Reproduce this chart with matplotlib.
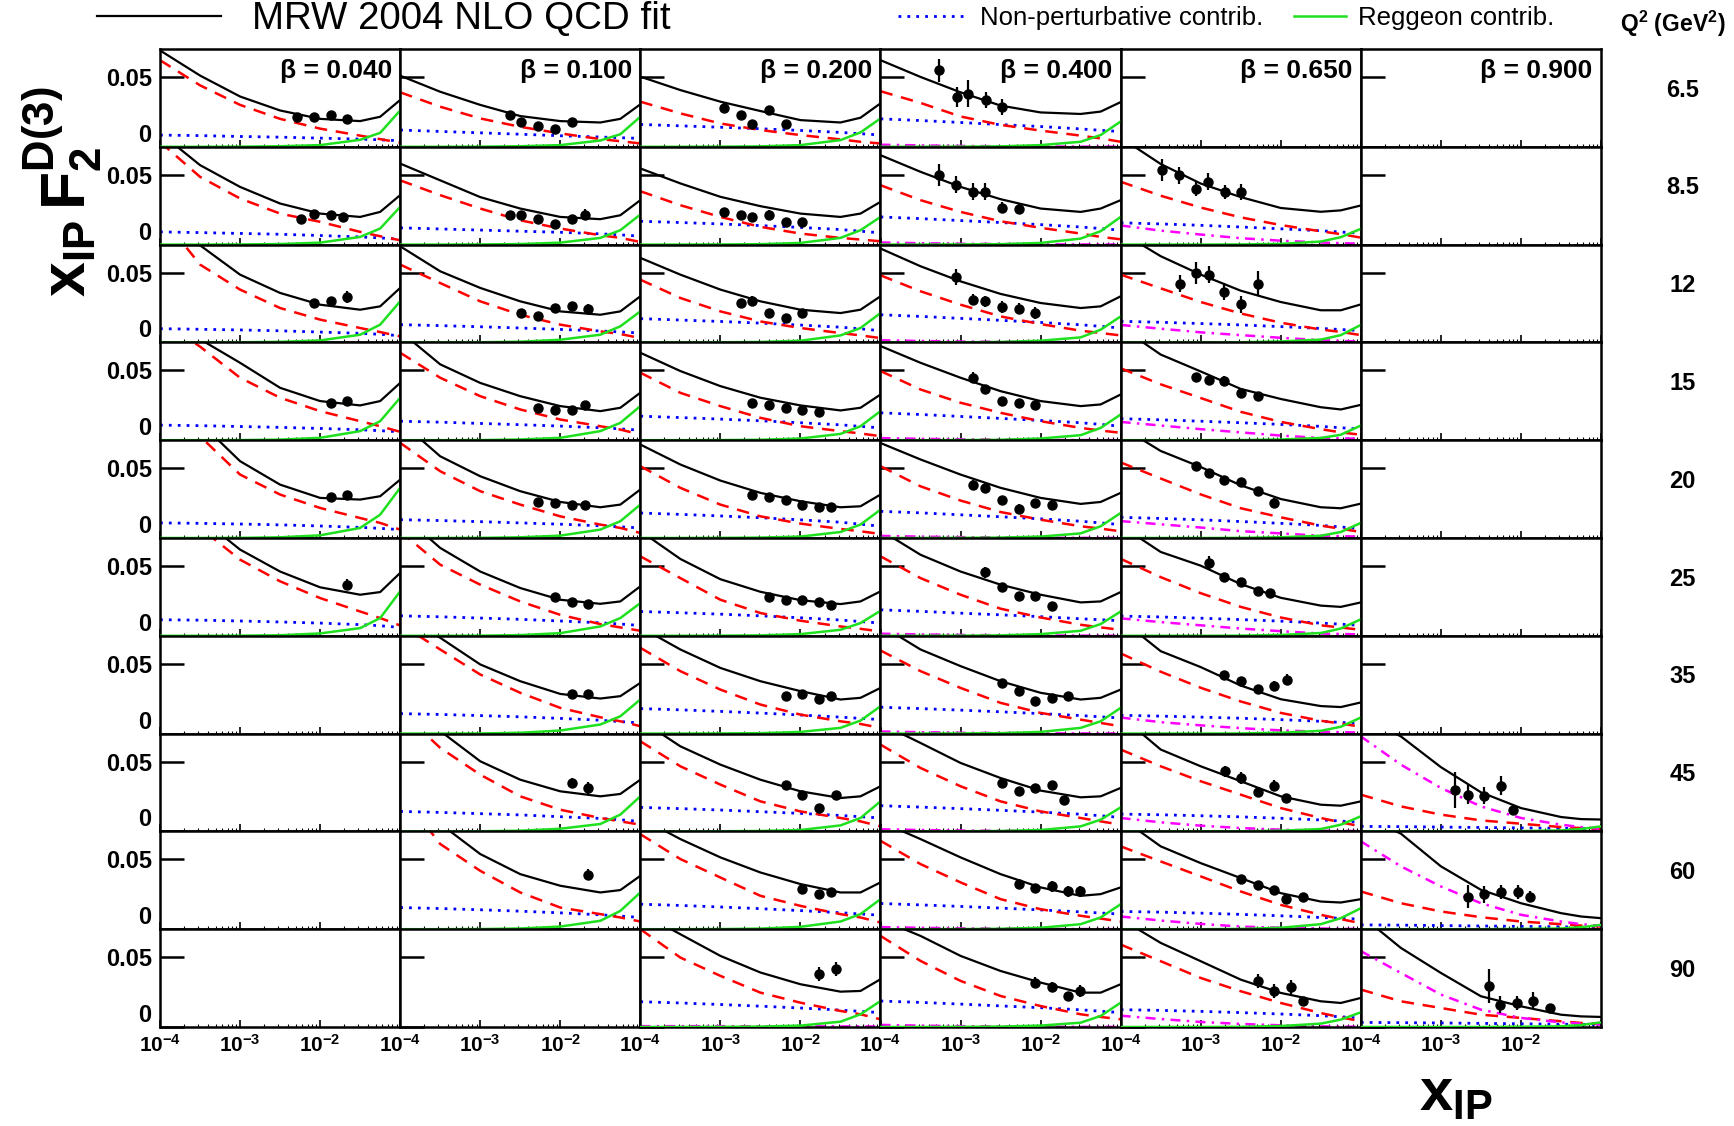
import numpy as np
import matplotlib
matplotlib.use("Agg")
import matplotlib.pyplot as plt
from matplotlib.lines import Line2D
from matplotlib.ticker import LogLocator, NullLocator, FixedLocator

plt.rcParams['font.family'] = ['Liberation Sans', 'DejaVu Sans']
plt.rcParams['mathtext.fontset'] = 'custom'
plt.rcParams['mathtext.rm'] = 'Liberation Sans'
plt.rcParams['mathtext.bf'] = 'Liberation Sans:bold'
plt.rcParams['mathtext.it'] = 'Liberation Sans:italic'

# ---------------- data (values in units of 1e-3) ----------------
UNIT = 1e-3
LOGX = [-4.0, -3.5, -3.0, -2.5, -2.0, -1.5, -1.25, -1.0]
BETAS = ['0.040', '0.100', '0.200', '0.400', '0.650', '0.900']
Q2 = ['6.5', '8.5', '12', '15', '20', '25', '35', '45', '60', '90']

# beta = 0.040
TOT_B040 = [[69, 51, 36, 26, 20, 18.4, 21.5, 33.5],
            [80, 56.9, 41.3, 29.4, 22.2, 19.8, 23.4, 35.4],
            [95, 69.5, 48.5, 35.4, 27, 23.4, 25.8, 39],
            [95, 72.3, 55.4, 37.5, 28, 24.9, 28, 41],
            [110, 82.7, 55, 38.2, 28.7, 27.5, 29.9, 41.8],
            [115, 84.7, 61.7, 46, 34.7, 29.4, 31.3, 45],
            None, None, None, None]
PERT_B040 = [[62, 44, 30, 20, 13, 8, 5.5, 3],
             [73.5, 48.5, 33, 22.2, 16.3, 9.1, 6, 3.1],
             [91.5, 55.7, 37.8, 24.6, 16.3, 10.3, 7.4, 4.3],
             [86, 67, 44.7, 30.4, 20.8, 13.6, 10, 6],
             [100, 72.8, 45.4, 31.1, 21.5, 14.3, 10.8, 6],
             [105, 77.3, 54.5, 39, 27, 17.4, 12.7, 7.4],
             None, None, None, None]
NP_B040 = [[8.4, 8.0, 7.4, 6.9, 6.2, 5.5, 5.0, 4.3],
           [9.1, 8.6, 8.0, 7.4, 6.5, 5.5, 4.8, 3.8],
           [9.8, 9.4, 8.9, 8.3, 7.4, 6.5, 5.8, 4.8],
           [10.8, 10.4, 9.8, 9.2, 8.4, 7.5, 6.8, 6.0],
           [10.8, 10.5, 10.0, 9.4, 8.6, 7.6, 6.9, 6.0],
           [11.5, 11.2, 10.6, 9.9, 9.1, 8.0, 7.2, 6.0],
           None, None, None, None]
REG_B040 = [[0, 0, 0.1, 0.4, 1.2, 5, 10, 26],
            [0, 0, 0.1, 0.4, 1.4, 5.5, 11.5, 27],
            [0, 0, 0.1, 0.4, 1.4, 5.5, 12.7, 29.4],
            [0, 0, 0.1, 0.4, 1.7, 6.5, 13.6, 30.4],
            [0, 0, 0.1, 0.5, 1.9, 7.2, 16.7, 35.9],
            [0, 0, 0.1, 0.4, 1.7, 5.5, 12.7, 31.8],
            None, None, None, None]
MAG_B040 = [None] * 10
DX_B040 = [[-2.285, -2.075, -1.866, -1.669], [-2.243, -2.075, -1.866, -1.72],
           [-2.075, -1.866, -1.669], [-1.866, -1.669], [-1.866, -1.669], [-1.669],
           None, None, None, None]
DY_B040 = [[21.0, 21.5, 22.7, 19.8], [18.2, 21.7, 21.5, 19.8],
           [28, 29.4, 32.5], [26.3, 28], [29.2, 31.1], [36.6],
           None, None, None, None]
DE_B040 = [[1.5, 2.5, 1.5, 2], [1.5, 1.5, 1.5, 1.5],
           [2, 3, 4.5], [1.5, 2], [1.5, 2.5], [4],
           None, None, None, None]

# beta = 0.100
TOT_B100 = [[50.9, 39.4, 30, 22, 18.4, 17.4, 20, 30.4],
            [58, 46, 34, 25.8, 19.8, 18.2, 21, 31.8],
            [68.8, 50.9, 39, 29.4, 22.2, 19.8, 22.2, 33],
            [78, 54.3, 41, 31.5, 24.4, 20.8, 23.2, 34],
            [83.5, 58.5, 44.2, 33.5, 25.8, 22, 23.9, 34.7],
            [88, 62.9, 46, 34.2, 25.8, 22.9, 24.6, 35.4],
            [86, 68.6, 49.5, 37.5, 28.4, 25.1, 26.8, 36.3],
            [95, 71.9, 50.2, 37, 28.7, 25.1, 26.8, 37],
            [100, 75.5, 53.8, 39.4, 31.1, 26.3, 28, 38.2],
            None]
PERT_B100 = [[39, 28.7, 20.3, 14.3, 9.6, 5.5, 4, 2.4],
             [46, 35.4, 25.8, 17.4, 11.5, 6.7, 4.8, 1.9],
             [55.7, 42.5, 29.4, 19.8, 12.7, 7.9, 6, 3.1],
             [62.6, 44.7, 31.5, 22, 14.8, 10, 7.6, 4.1],
             [68.1, 47.8, 33.5, 23.9, 15.5, 9.6, 7.2, 3.6],
             [74.8, 50.9, 36.6, 24.6, 15, 8.4, 6, 3.6],
             [78.3, 60.2, 42.3, 29.2, 18.4, 11.7, 8.8, 5.3],
             [86.6, 59.8, 40.6, 25.1, 15.5, 9.6, 7.2, 4.8],
             [98, 61, 41.8, 26.3, 15.5, 10.8, 8.4, 5.5],
             None]
NP_B100 = [[12, 11, 10, 9, 7.9, 7, 6.5, 6],
           [12, 11.2, 10.4, 9.6, 8.8, 7.7, 7, 6],
           [12.7, 12, 11.2, 10.3, 9.3, 8.2, 7.5, 6.7],
           [13.6, 12.9, 12, 11.1, 10.1, 8.9, 8.1, 7.2],
           [13.1, 12.5, 11.7, 10.8, 9.9, 8.7, 8, 7.2],
           [14.3, 13.6, 12.7, 11.8, 10.6, 9.3, 8.4, 7.4],
           [14.3, 13.7, 12.9, 12, 10.9, 9.6, 8.6, 7.6],
           [14.3, 13.6, 12.7, 11.8, 10.5, 9.3, 8.3, 7.2],
           [15.5, 14.8, 13.9, 12.9, 11.7, 10.3, 9.4, 8.4],
           None]
REG_B100 = [[0, 0, 0.1, 0.4, 1.2, 4.5, 9, 21.5],
            [0, 0, 0.1, 0.4, 1.4, 4.8, 10.3, 21.5],
            [0, 0, 0.1, 0.5, 1.9, 5.5, 11.5, 22.2],
            [0, 0, 0.1, 0.5, 1.7, 6.5, 12.4, 24.4],
            [0, 0, 0.1, 0.5, 1.7, 6, 12, 23.9],
            [0, 0, 0.1, 0.5, 1.9, 6.7, 12.7, 23.4],
            [0, 0, 0.1, 0.6, 2.2, 6.5, 12.4, 24.4],
            [0, 0, 0.1, 0.5, 1.9, 5.3, 12, 25.1],
            [0, 0, 0.1, 0.5, 1.9, 6, 13.1, 26.3],
            None]
MAG_B100 = [None] * 10
DX_B100 = [[-2.632, -2.485, -2.276, -2.067, -1.858],
           [-2.632, -2.485, -2.276, -2.067, -1.858, -1.69],
           [-2.485, -2.276, -2.067, -1.858, -1.649],
           [-2.276, -2.067, -1.858, -1.69],
           [-2.276, -2.067, -1.858, -1.69],
           [-2.067, -1.858, -1.649],
           [-1.858, -1.649],
           [-1.858, -1.649],
           [-1.649],
           None]
DY_B100 = [[22.7, 17.4, 14.6, 12.4, 17.9],
           [21, 21.5, 18.2, 14.6, 18.2, 21.5],
           [21, 18.6, 24.6, 25.8, 23.9],
           [23.2, 21.5, 21.5, 25.1],
           [25.6, 25.1, 23.9, 23.9],
           [27.7, 24.1, 22.7],
           [28.7, 28.7],
           [34.7, 31.1],
           [39],
           None]
DE_B100 = [[3, 1.5, 1.5, 1.5, 1.5],
           [3, 1.5, 1.5, 1.5, 1.5, 4],
           [2, 2, 3, 3, 3.5],
           [1.5, 1.5, 1.5, 2],
           [1.5, 1.5, 1.5, 1.5],
           [2.5, 1.5, 1.5],
           [2, 2.5],
           [3.5, 4],
           [4],
           None]

# beta = 0.200
TOT_B200 = [[50.2, 40.6, 32.3, 25.6, 19.1, 17.4, 20.8, 31.1],
            [54.5, 43.8, 34.2, 27.5, 22.2, 19.8, 22.2, 30.6],
            [60.5, 48.5, 37.8, 29.4, 23.4, 21, 23.4, 33],
            [62.6, 49.5, 38.7, 30.4, 24.9, 21.3, 23.2, 32.7],
            [66.9, 52.6, 41.1, 32.3, 26.3, 22, 22.7, 31.1],
            [75, 55, 40.5, 31.5, 25.5, 22.7, 24.6, 31.8],
            [76.2, 60.2, 47, 37.5, 30.4, 24.4, 25.6, 32.7],
            [79.8, 60.9, 47.8, 37, 28.7, 23.9, 25.1, 32.3],
            [79.7, 64.5, 51.4, 40.6, 32.3, 26.3, 26.3, 33.5],
            [82, 66.4, 50.9, 39, 30.6, 25.3, 25.8, 34.2]]
PERT_B200 = [[32.3, 23.9, 16.7, 12, 8.4, 5.3, 3.6, 2.4],
             [38.2, 28.2, 19.8, 12.7, 7.9, 4.8, 3.6, 2.4],
             [44.9, 31.8, 22.2, 15, 10.3, 6.7, 5, 3.1],
             [48.3, 33.9, 24.4, 16, 10, 6.5, 4.8, 2.9],
             [51.4, 35.9, 23.9, 15.5, 10.3, 6.5, 4.8, 2.9],
             [56.9, 41.3, 25.8, 16.3, 10.8, 6.7, 5, 3.1],
             [61.4, 44.7, 31.5, 20.8, 13.6, 8.8, 6.9, 4.1],
             [64.5, 46.6, 33.5, 21.5, 14.3, 9.6, 7.2, 3.6],
             [68, 50.2, 37, 23.9, 16.7, 10.8, 8.4, 4.8],
             [70, 49.7, 36.6, 24.6, 17.4, 11.5, 9.1, 5.5]]
NP_B200 = [[16, 15, 14, 12.9, 11.7, 10.3, 9.4, 8.4],
           [16.7, 15.8, 14.8, 13.6, 12.3, 10.8, 9.6, 8.4],
           [17, 16, 15, 13.8, 12.4, 10.9, 9.7, 8.4],
           [17.2, 16.2, 15.1, 13.9, 12.5, 11, 9.9, 8.8],
           [17.9, 16.9, 15.8, 14.5, 13, 11.3, 9.9, 8.4],
           [17.4, 16.5, 15.5, 14.3, 12.9, 11.3, 10.2, 9.1],
           [17.9, 17, 15.9, 14.7, 13.3, 11.8, 10.9, 10],
           [17.2, 16.3, 15.3, 14.1, 12.9, 11.4, 10.5, 9.6],
           [17.9, 17, 15.9, 14.7, 13.3, 11.8, 10.9, 10],
           [18.1, 17.2, 16.1, 14.9, 13.6, 12.1, 11.2, 10.3]]
REG_B200 = [[0, 0, 0.1, 0.3, 1.2, 4.8, 10.3, 20.3],
            [0, 0, 0.1, 0.3, 1.2, 4.8, 10.3, 19.8],
            [0, 0, 0.1, 0.3, 1.2, 5, 10.3, 21],
            [0, 0, 0.1, 0.3, 1.2, 4.5, 10, 20.8],
            [0, 0, 0.1, 0.3, 1, 4.3, 9.6, 20.3],
            [0, 0, 0.1, 0.3, 1.2, 4.3, 9.1, 17.9],
            [0, 0, 0.1, 0.3, 1.2, 4.1, 9.3, 19.6],
            [0, 0, 0.1, 0.3, 1, 4.3, 9.6, 21.5],
            [0, 0, 0.1, 0.4, 1.7, 5.5, 10.8, 21.5],
            [0, 0, 0.1, 0.3, 1, 3.8, 9.1, 18.6]]
MAG_B200 = [None, None, None, None, None, None, None, None, None,
            [0.6, 0.6, 0.6, 0.5, 0.5, 0.4, 0.4, 0.3]]
DX_B200 = [[-2.957, -2.748, -2.602, -2.394, -2.185],
           [-2.957, -2.748, -2.602, -2.394, -2.185, -1.977],
           [-2.748, -2.602, -2.394, -2.185, -1.977],
           [-2.602, -2.394, -2.185, -1.977, -1.768],
           [-2.602, -2.394, -2.185, -1.977, -1.768, -1.614],
           [-2.394, -2.185, -1.977, -1.768, -1.614],
           [-2.185, -1.977, -1.768, -1.614],
           [-2.185, -1.977, -1.768, -1.559],
           [-1.977, -1.768, -1.614],
           [-1.768, -1.559]]
DY_B200 = [[28, 22.7, 16, 26.3, 16],
           [23.4, 21.5, 19.8, 21.5, 16.3, 16.3],
           [28.2, 29.9, 21, 17.4, 21],
           [26.8, 25.1, 23.2, 21.5, 20.1],
           [31.1, 29.2, 27, 23.9, 22, 22],
           [27.7, 25.8, 25.8, 23.9, 22.2],
           [26.8, 28.7, 25.1, 27.2],
           [33, 25.8, 16.7, 25.8],
           [28.7, 25.1, 26.8],
           [38.2, 41.8]]
DE_B200 = [[3, 2.5, 1.5, 2, 1.5],
           [1.5, 1.5, 1.5, 3, 1.5, 1.5],
           [2.5, 3, 1.5, 1.5, 1.5],
           [1.5, 1.5, 1.5, 1.5, 1.5],
           [1.5, 1.5, 1.5, 1.5, 1.5, 1.5],
           [1.5, 1.5, 1.5, 1.5, 1.5],
           [2, 2, 1.5, 2.5],
           [1.5, 1.5, 1.5, 3],
           [1.5, 1.5, 2.5],
           [5, 5]]

# beta = 0.400
TOT_B400 = [[62, 50, 39, 29.5, 24.6, 23.5, 25.2, 32],
            [64, 52.1, 41.3, 32.5, 25.8, 23.4, 25.8, 31.8],
            [67.2, 54.5, 43.7, 34.7, 28.2, 24.6, 25.8, 33],
            [67.4, 55.4, 44.7, 35.1, 28, 24.4, 25.6, 32.7],
            [68, 56.2, 45.4, 35.9, 28.7, 24.4, 25.8, 32.3],
            [75.6, 58, 46, 36.6, 29.4, 23.9, 24.6, 31.3],
            [77.7, 60.2, 48.3, 37.5, 29.2, 24.4, 25.6, 31.5],
            [77.3, 63.3, 49, 38.2, 29.2, 24.4, 25.1, 31.1],
            [77, 64.5, 51.4, 39.4, 29.9, 23.9, 25.1, 29.9],
            [77, 65.2, 50.9, 40.1, 31.8, 24.6, 24.6, 30.6]]
PERT_B400 = [[39.8, 31.4, 21.7, 15.7, 11.6, 8, 6, 3.6],
             [42.5, 31.8, 23.4, 16.7, 12, 7.9, 5.5, 3.8],
             [48, 36.6, 27, 18.6, 13.1, 8.4, 6.7, 5],
             [49.5, 36.3, 26.8, 19.6, 13.6, 8.8, 6.9, 5.3],
             [51.4, 37, 26.8, 18.6, 13.1, 8.4, 6.7, 4.8],
             [56.9, 41.3, 29.4, 19.4, 13.1, 7.9, 6, 4.3],
             [59.5, 44.7, 32.7, 22, 14.8, 10, 7.6, 5.3],
             [62.1, 45.4, 32.3, 21.5, 14.3, 9.6, 7.2, 4.8],
             [63.3, 46.6, 33.5, 21.5, 14.3, 9.6, 7.6, 5.5],
             [65.2, 47.3, 33, 22.2, 15, 9.1, 7.2, 5.5]]
NP_B400 = [[20, 18.8, 17.4, 15.9, 14.5, 12.8, 11.8, 10.9],
           [19.8, 18.6, 17.2, 15.8, 14.3, 12.6, 11.5, 10.3],
           [19.8, 18.6, 17.2, 15.8, 14.3, 12.6, 11.5, 10.3],
           [19.6, 18.4, 17, 15.6, 14.1, 12.5, 11.3, 10],
           [19.1, 18, 16.6, 15.2, 13.7, 12, 10.8, 9.6],
           [18.6, 17.5, 16.2, 15, 13.7, 12.2, 11.5, 10.8],
           [18.9, 17.9, 16.8, 15.6, 14.3, 12.9, 12, 11.2],
           [18.4, 17.4, 16.3, 15.1, 13.8, 12.3, 11.2, 10],
           [18.4, 17.4, 16.3, 15.1, 13.8, 12.4, 11.6, 10.8],
           [18.6, 17.6, 16.4, 15.1, 13.8, 12.3, 11.3, 10.3]]
REG_B400 = [[0, 0, 0.1, 0.3, 1.2, 3.6, 8.4, 18.1],
            [0, 0, 0.1, 0.3, 1.2, 4.3, 9.6, 19.8],
            [0, 0, 0.1, 0.3, 1.2, 3.6, 9.1, 18.6],
            [0, 0, 0.1, 0.3, 1.2, 3.6, 8.8, 18.4],
            [0, 0, 0.1, 0.3, 1, 3.3, 8.4, 17.9],
            [0, 0, 0.1, 0.3, 1.2, 3.6, 8.4, 17.4],
            [0, 0, 0.1, 0.3, 1.2, 4.1, 8.8, 18.4],
            [0, 0, 0.1, 0.3, 1, 3.6, 8.4, 17.2],
            [0, 0, 0.1, 0.3, 1, 3.6, 8.4, 17.9],
            [0, 0, 0.1, 0.3, 1, 3.1, 7.9, 17.4]]
MAG_B400_ROW = [1.5, 1.0, 0.6, 0.4, 0.2, 0.1, 0.1, 0.0]
MAG_B400 = [MAG_B400_ROW] * 10
DX_B400 = [[-3.268, -3.041, -2.904, -2.687, -2.479],
           [-3.269, -3.056, -2.848, -2.693, -2.484, -2.276],
           [-3.056, -2.848, -2.693, -2.484, -2.276, -2.067],
           [-2.848, -2.693, -2.484, -2.276, -2.067],
           [-2.848, -2.693, -2.484, -2.276, -2.067, -1.858],
           [-2.693, -2.484, -2.276, -2.067, -1.858],
           [-2.484, -2.276, -2.067, -1.858, -1.662],
           [-2.484, -2.276, -2.067, -1.858, -1.703],
           [-2.276, -2.067, -1.858, -1.662, -1.503],
           [-2.067, -1.858, -1.662, -1.503]]
DY_B400 = [[54.8, 35.7, 37.9, 33.3, 28.5],
           [49.7, 43, 37.8, 37.8, 26.3, 25.8],
           [46.8, 30.6, 29.4, 25.3, 24.1, 21],
           [44.7, 36.3, 28.4, 26.8, 25.1],
           [38.2, 35.9, 27, 20.8, 25.1, 23.9],
           [45.4, 34.9, 28.2, 28.2, 21],
           [36.3, 30.8, 23.6, 25.6, 27.2],
           [34.7, 29.2, 31.1, 33, 22.2],
           [32.3, 29.2, 30.6, 27, 27],
           [31.8, 28.9, 22.2, 25.8]]
DE_B400 = [[8.4, 7, 9.6, 5.7, 5.8],
           [7.7, 6, 6, 6, 4, 3],
           [6, 4, 4, 4, 4, 4],
           [4, 2, 2, 2, 2],
           [3.5, 3.5, 3, 3.5, 2, 3],
           [4, 2, 1.5, 1.5, 1.5],
           [2, 2, 2, 2, 2.5],
           [2, 2, 3, 3, 1.5],
           [3, 3, 4, 4, 4],
           [4, 3, 3, 4]]

# beta = 0.650
TOT_B650 = [None,
            [76.6, 57.7, 43.7, 34, 26.2, 23.5, 24.5, 28],
            [79, 61.7, 48.5, 37, 28.9, 23, 23, 27.2],
            [81, 61.3, 49.2, 36.7, 29.5, 23.6, 22, 25.3],
            [79.8, 62.3, 50.8, 37.7, 27.9, 22, 21.3, 24.6],
            [79, 60, 50.2, 37, 27.2, 21.6, 20.7, 23.9],
            [81.9, 59, 47.6, 34.4, 24.6, 19.7, 19, 22.3],
            [82.8, 58.6, 46.6, 35.9, 25.1, 19.1, 18.4, 21.5],
            [79.8, 59.3, 47.3, 36.6, 25.8, 19.8, 19.1, 21.5],
            [77.4, 60.2, 47.1, 33.9, 24.4, 18.4, 17.2, 20.8]]
PERT_B650 = [None,
             [45, 35, 26.5, 19.5, 14, 9.5, 7.5, 5],
             [48.5, 38.7, 28.9, 20.7, 14.1, 9.2, 7.5, 5.2],
             [51.5, 40, 30.2, 20.3, 13.1, 7.9, 5.6, 3.9],
             [54.1, 42.6, 31.2, 21.3, 14.8, 8.9, 6.6, 4.3],
             [55.1, 42, 30.5, 20.7, 13.1, 7.5, 5.9, 4.3],
             [57.4, 44.3, 32.8, 23, 14.8, 9.2, 7.2, 4.9],
             [58.6, 46.6, 35.9, 26.3, 16.7, 9.6, 6.5, 3.6],
             [59.3, 48.5, 37.8, 27, 17.4, 10.3, 7.2, 4.3],
             [59, 47.1, 35.1, 25.6, 17.2, 10, 6.9, 4.1]]
NP_B650 = [None,
           [15.6, 14.8, 13.8, 12.6, 11.3, 9.9, 9.0, 8.2],
           [15.1, 14.4, 13.5, 12.5, 11.3, 10, 9.2, 8.5],
           [15.4, 14.6, 13.6, 12.5, 11.3, 9.9, 8.9, 7.9],
           [14.8, 14, 13, 11.8, 10.5, 9, 7.9, 6.6],
           [14.1, 13.5, 12.6, 11.6, 10.5, 9.1, 8.3, 7.5],
           [13.1, 12.5, 11.8, 11, 10, 8.8, 8, 7.2],
           [12.4, 11.9, 11.2, 10.4, 9.4, 8.2, 7.4, 6.5],
           [12.7, 12.2, 11.5, 10.6, 9.6, 8.4, 7.8, 7.2],
           [12.4, 11.9, 11.2, 10.3, 9.3, 8.1, 7.3, 6.5]]
REG_B650 = [None,
            [0, 0, 0, 0.1, 0.5, 2.2, 5.3, 11.3],
            [0, 0, 0, 0.1, 0.7, 2, 5.2, 12.5],
            [0, 0, 0, 0.1, 0.5, 1.6, 3.9, 10.5],
            [0, 0, 0, 0.1, 0.5, 1.6, 4.3, 10.8],
            [0, 0, 0, 0.1, 0.6, 2, 5.2, 11.8],
            [0, 0, 0, 0.1, 0.6, 2, 4.9, 11.5],
            [0, 0, 0, 0.1, 0.5, 1.7, 4.8, 10.8],
            [0, 0, 0, 0.2, 1, 3.6, 7.9, 15],
            [0, 0, 0, 0.1, 0.7, 2.4, 5.3, 10.5]]
MAG_B650 = [None,
            [13.7, 10, 7.2, 4.6, 2.8, 1.5, 1, 0.6],
            [12.5, 9.8, 7.2, 5.2, 3.3, 1.6, 1, 0.7],
            [13.1, 10.5, 7.9, 5.6, 3.3, 1.6, 1.3, 1],
            [12.1, 9.8, 7.5, 4.9, 3.3, 1.6, 1.3, 1],
            [12.5, 9.8, 7.5, 5.2, 3.3, 1.6, 1.3, 1],
            [11.5, 8.2, 5.9, 3.9, 2.3, 1.3, 1, 0.7],
            [9.6, 6.5, 4.1, 2.4, 1.2, 0.5, 0.3, 0.3],
            [9.1, 6.2, 3.8, 1.9, 1, 0.5, 0.2, 0.2],
            [8.1, 5.7, 3.6, 2.2, 1.2, 0.5, 0.2, 0.2]]
DX_B650 = [None,
           [-3.48, -3.273, -3.065, -2.906, -2.7, -2.495],
           [-3.265, -3.065, -2.899, -2.704, -2.496, -2.288],
           [-3.065, -2.899, -2.704, -2.496, -2.288],
           [-3.065, -2.899, -2.704, -2.496, -2.288, -2.081],
           [-2.899, -2.704, -2.496, -2.288, -2.13],
           [-2.704, -2.496, -2.288, -2.081, -1.923],
           [-2.697, -2.5, -2.289, -2.088, -1.932],
           [-2.5, -2.289, -2.088, -1.932, -1.721],
           [-2.289, -2.088, -1.871, -1.721]]
DY_B650 = [None,
           [53.3, 49.7, 39.6, 44.9, 37.7, 37.7],
           [42, 49.5, 48.5, 36.4, 27.2, 42],
           [44.9, 43.3, 42.6, 34.1, 31.8],
           [51.5, 46.6, 41.7, 40.3, 33.5, 25.3],
           [51.8, 42, 38.7, 32.1, 30.5],
           [42, 37.7, 32.1, 34.4, 38.7],
           [43, 38.2, 28, 32.7, 23.9],
           [35.9, 31.8, 28.2, 21.5, 22.9],
           [32.7, 25.6, 28.7, 18.4]]
DE_B650 = [None,
           [8, 6, 5, 6, 5, 6],
           [6, 8, 6, 6, 6, 9],
           [3, 3, 3, 3, 3],
           [3, 3, 3, 3, 3, 3],
           [5, 3, 3, 3, 2.5],
           [3, 3, 2.5, 3, 4],
           [4, 4, 3, 4, 3],
           [3, 3, 3, 2, 3],
           [5, 5, 5, 2]]

# beta = 0.900
TOT_B900 = [None, None, None, None, None, None, None,
            [83, 68, 46, 28, 16.7, 10.3, 8.8, 8.5],
            [81.7, 68.4, 45, 28.2, 18.6, 11.5, 9.1, 7.9],
            [80, 56.6, 38.7, 22, 14.8, 8.8, 7.6, 7.2]]
PERT_B900 = [None, None, None, None, None, None, None,
             [26.3, 17.9, 12, 7.9, 5.5, 3.1, 2.4, 1.7],
             [27, 18.6, 12.7, 8.6, 5.5, 3.6, 2.6, 1.9],
             [26.8, 18.4, 13.6, 8.8, 6.5, 4.1, 2.9, 2.2]]
NP_B900 = [None, None, None, None, None, None, None,
           [3.6, 3.4, 3.1, 2.8, 2.5, 2.2, 2.0, 1.7],
           [3.1, 2.9, 2.6, 2.3, 2.0, 1.7, 1.4, 1.2],
           [3.3, 3.1, 2.9, 2.6, 2.3, 2.0, 1.9, 1.7]]
REG_B900 = [None, None, None, None, None, None, None,
            [0, 0, 0, 0, 0.2, 0.7, 1.7, 3.6],
            [0, 0, 0, 0, 0.2, 0.5, 1.4, 3.1],
            [0, 0, 0, 0, 0.2, 0.5, 1.4, 3.3]]
MAG_B900 = [None, None, None, None, None, None, None,
            [68, 47.8, 31.1, 17.9, 9.6, 4.8, 3.1, 1.9],
            [62.9, 45, 30.6, 18.6, 10.3, 5.5, 3.6, 2.4],
            [54.3, 38.7, 23.2, 12.4, 6.5, 3.3, 2.4, 1.7]]
DX_B900 = [None, None, None, None, None, None, None,
           [-2.825, -2.663, -2.461, -2.253, -2.101],
           [-2.663, -2.461, -2.253, -2.04, -1.889],
           [-2.405, -2.258, -2.05, -1.848, -1.635]]
DY_B900 = [None, None, None, None, None, None, None,
           [29.4, 26.3, 25.6, 32.7, 15.5],
           [23.4, 25.1, 26.5, 26.5, 23.4],
           [29.2, 16.1, 17.2, 18.9, 13.6]]
DE_B900 = [None, None, None, None, None, None, None,
           [13, 7, 6, 7, 3],
           [8, 6, 5, 5, 4],
           [12, 6, 5, 6, 3]]

TOT = [TOT_B040, TOT_B100, TOT_B200, TOT_B400, TOT_B650, TOT_B900]
PERT = [PERT_B040, PERT_B100, PERT_B200, PERT_B400, PERT_B650, PERT_B900]
NONP = [NP_B040, NP_B100, NP_B200, NP_B400, NP_B650, NP_B900]
REGG = [REG_B040, REG_B100, REG_B200, REG_B400, REG_B650, REG_B900]
MAGC = [MAG_B040, MAG_B100, MAG_B200, MAG_B400, MAG_B650, MAG_B900]
DXS = [DX_B040, DX_B100, DX_B200, DX_B400, DX_B650, DX_B900]
DYS = [DY_B040, DY_B100, DY_B200, DY_B400, DY_B650, DY_B900]
DES = [DE_B040, DE_B100, DE_B200, DE_B400, DE_B650, DE_B900]

# ---------------- figure ----------------
W, H = 1734, 1126
fig = plt.figure(figsize=(W / 100, H / 100), dpi=100)
L, R, T, B = 160, 1601, 49, 1027
gs = fig.add_gridspec(10, 6, left=L / W, right=R / W, top=1 - T / H, bottom=1 - B / H,
                      hspace=0, wspace=0)

xs = 10 ** np.array(LOGX)
BLACK = 'black'
RED = '#ff0000'
BLUE = '#0000ff'
GREEN = '#1fe01f'
MAGENTA = '#ff00ff'

for r in range(10):
    for c in range(6):
        ax = fig.add_subplot(gs[r, c])
        ax.set_xscale('log')
        ax.set_xlim(1e-4, 1e-1)
        ax.set_ylim(0, 0.07)
        for sp in ax.spines.values():
            sp.set_linewidth(1.8)
        ax.xaxis.set_major_locator(FixedLocator([1e-4, 1e-3, 1e-2, 1e-1]))
        ax.xaxis.set_minor_locator(LogLocator(base=10, subs=np.arange(2, 10), numticks=20))
        ax.yaxis.set_major_locator(FixedLocator([0, 0.05]))
        ax.yaxis.set_minor_locator(NullLocator())
        ax.tick_params(axis='x', which='major', direction='in', length=5, width=1.2,
                       top=False, bottom=True)
        ax.tick_params(axis='x', which='minor', direction='in', length=2.5, width=0.8,
                       top=False, bottom=True)
        ax.tick_params(axis='y', which='major', direction='in', length=17, width=1.8,
                       left=True, right=False)
        if r == 9:
            ax.set_xticklabels([r'$\mathbf{10^{-4}}$', r'$\mathbf{10^{-3}}$',
                                r'$\mathbf{10^{-2}}$', ''], fontsize=15)
            ax.tick_params(axis='x', which='major', pad=5)
        else:
            ax.tick_params(axis='x', labelbottom=False)
        ax.tick_params(axis='x', which='minor', labelbottom=False)
        if c == 0:
            ax.set_yticklabels(['0', '0.05'], fontsize=17, fontweight='bold')
            ax.tick_params(axis='y', pad=6)
            ax.yaxis.get_major_ticks()[0].label1.set_va('bottom')
        else:
            ax.tick_params(axis='y', labelleft=False)

        tot = TOT[c][r]
        if tot is not None:
            ax.plot(xs, np.array(NONP[c][r]) * UNIT, color=BLUE, lw=2.0,
                    ls=(0, (1, 2.2)), zorder=2)
            ax.plot(xs, np.array(PERT[c][r]) * UNIT, color=RED, lw=1.8,
                    ls=(0, (5, 3.5)), zorder=2)
            if MAGC[c][r] is not None:
                ax.plot(xs, np.array(MAGC[c][r]) * UNIT, color=MAGENTA, lw=1.8,
                        ls=(0, (4, 2.5, 1, 2.5)), zorder=2)
            ax.plot(xs, np.array(REGG[c][r]) * UNIT, color=GREEN, lw=1.8, zorder=3)
            ax.plot(xs, np.array(tot) * UNIT, color=BLACK, lw=1.6, zorder=4)
        if DXS[c][r] is not None:
            ax.errorbar(10 ** np.array(DXS[c][r]), np.array(DYS[c][r]) * UNIT,
                        yerr=np.array(DES[c][r]) * UNIT, fmt='o', color='black',
                        ms=6.5, elinewidth=1.6, capsize=0, zorder=5)
        if r == 0:
            ax.text(0.965, 0.77, '\u03b2 = ' + BETAS[c], transform=ax.transAxes,
                    ha='right', va='center', fontsize=19, fontweight='bold')
        if c == 5:
            ax.text((1682 - 1362) / (R - 1362), 0.58, Q2[r], transform=ax.transAxes,
                    ha='center', va='center', fontsize=17, fontweight='bold')

# axis titles
fig.text(62 / W, 1 - 192 / H, r'$\mathbf{x_{IP}\,F_{2}^{D(3)}}$', rotation=90,
         fontsize=45, ha='center', va='center')
fig.text(1419 / W, 1 - 1111 / H, r'$\mathbf{x_{IP}}$', fontsize=43,
         ha='left', va='baseline')
fig.text(1673 / W, 1 - 24 / H, r'$\mathbf{Q^{2}\ (GeV^{2})}$', fontsize=16.5,
         ha='center', va='center')

# legend at top
yl = 1 - 15.5 / H
fig.add_artist(Line2D([97 / W, 221 / W], [yl, yl], color='black', lw=1.6))
fig.text(252 / W, 1 - 29 / H, 'MRW 2004 NLO QCD fit', fontsize=27.7, ha='left',
         va='baseline')
fig.add_artist(Line2D([898 / W, 968 / W], [yl, yl], color=BLUE, lw=2.0,
                      ls=(0, (1, 2.2))))
fig.text(980 / W, 1 - 24.5 / H, 'Non-perturbative contrib.', fontsize=18.5,
         ha='left', va='baseline')
fig.add_artist(Line2D([1294 / W, 1346 / W], [yl, yl], color=GREEN, lw=1.8))
fig.text(1358 / W, 1 - 24.5 / H, 'Reggeon contrib.', fontsize=18.5,
         ha='left', va='baseline')

fig.savefig('out.png', dpi=100)
